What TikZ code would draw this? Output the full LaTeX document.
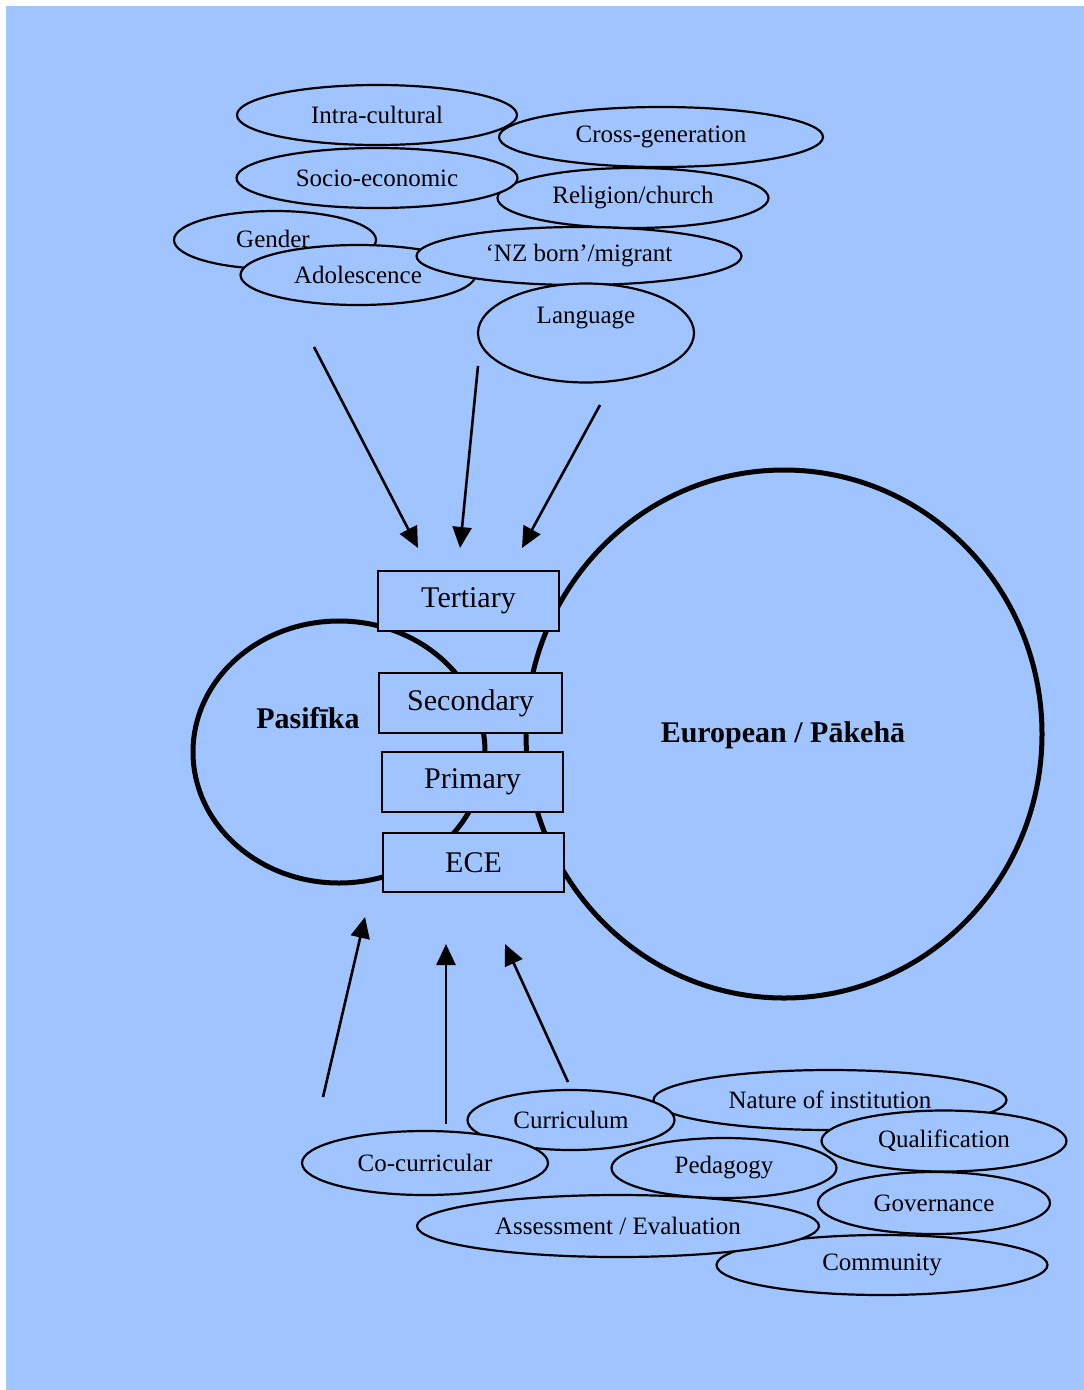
\documentclass[tikz,border=0pt]{standalone}
\usepackage{fontspec}
\setmainfont{Liberation Serif}
\usetikzlibrary{shapes.geometric,arrows.meta}
\definecolor{bg}{HTML}{A0C4FF}
\begin{document}
\begin{tikzpicture}[x=1pt,y=-1pt,
  oval/.style={ellipse, draw=black, line width=2.2pt, fill=bg, inner sep=0pt,
    font=\fontsize{25}{30}\selectfont},
  level/.style={rectangle, draw=black, line width=2pt, fill=bg, inner sep=0pt,
    minimum width=181pt, minimum height=60pt, font=\fontsize{30}{36}\selectfont},
  ring/.style={ellipse, draw=black, line width=5pt, inner sep=0pt},
  tag/.style={font=\fontsize{25}{30}\selectfont, inner sep=0pt},
  title/.style={font=\fontsize{30}{36}\selectfont\bfseries, inner sep=0pt},
  feed/.style={draw=black, line width=2.6pt, -{Triangle[length=21pt,width=19pt]}}]

% page and panel
\fill[white] (0,0) rectangle (1084,1390);
\fill[bg] (6,6) rectangle (1084,1390);
\useasboundingbox (0,0) rectangle (1084,1390);

% upper cluster of influences
\node[oval, minimum width=324pt, minimum height=60pt] (crossgen) at (661,137) {Cross-generation};
\node[oval, minimum width=271pt, minimum height=60pt] (religion) at (633,198) {Religion/church};
\node[oval, minimum width=280pt, minimum height=60pt] (intra) at (377,115) {Intra-cultural};
\node[oval, minimum width=281pt, minimum height=60pt] (socio) at (377,178) {Socio-economic};
\node[oval, minimum width=202pt, minimum height=58pt] (gender) at (275,240) {};
\node[tag] (gender-text) at (273,239) {Gender};
\node[oval, minimum width=235pt, minimum height=60pt] (adol) at (358,275) {Adolescence};
\node[oval, minimum width=325pt, minimum height=58pt] (nzborn) at (579,256) {`NZ born'/migrant};
\node[oval, minimum width=216pt, minimum height=99pt] (lang) at (586,333) {};
\node[tag] (lang-text) at (586,318) {Language};

% the two cultural worlds
\node[ring, minimum width=292pt, minimum height=262pt] (pasifika) at (339,752) {};
\node[ring, minimum width=516pt, minimum height=528pt] (european) at (784,734) {};
\node[title] (pasifika-text) at (308,718) {Pasifīka};
\node[title] (european-text) at (783,735) {European / Pākehā};

% education sectors
\node[level] (tertiary) at (468.5,600.5) {Tertiary};
\node[level, minimum width=183pt] (secondary) at (470.5,703) {Secondary};
\node[level] (primary) at (472.5,782) {Primary};
\node[level, minimum height=59pt] (ece) at (473.5,862.5) {ECE};

% lower cluster of influences
\node[oval, minimum width=353pt, minimum height=60pt] (nature) at (830,1100) {Nature of institution};
\node[oval, minimum width=207pt, minimum height=60pt] (curric) at (571,1120) {Curriculum};
\node[oval, minimum width=246pt, minimum height=64pt] (cocurric) at (425,1163) {Co-curricular};
\node[oval, minimum width=245pt, minimum height=61pt] (qualif) at (944,1141) {Qualification};
\node[oval, minimum width=225pt, minimum height=60pt] (pedagogy) at (724,1168) {Pedagogy};
\node[oval, minimum width=232pt, minimum height=62pt] (govern) at (934,1203) {Governance};
\node[oval, minimum width=331pt, minimum height=60pt] (community) at (882,1265) {Community};
\node[oval, minimum width=402pt, minimum height=62pt] (assess) at (618,1226) {Assessment / Evaluation};

% arrows from above
\coordinate (d1s) at (314,347);  \coordinate (d1e) at (418,548);
\coordinate (d2s) at (478,366);  \coordinate (d2e) at (460,548);
\coordinate (d3s) at (600,405);  \coordinate (d3e) at (522,548);
\draw[feed] (d1s) -- (d1e);
\draw[feed] (d2s) -- (d2e);
\draw[feed] (d3s) -- (d3e);

% arrows from below
\coordinate (u1s) at (323,1097); \coordinate (u1e) at (365,917);
\coordinate (u2s) at (446,1124); \coordinate (u2e) at (446,944);
\coordinate (u3s) at (568,1082); \coordinate (u3e) at (505,944);
\draw[feed] (u1s) -- (u1e);
\draw[feed] (u2s) -- (u2e);
\draw[feed] (u3s) -- (u3e);
\end{tikzpicture}
\end{document}
